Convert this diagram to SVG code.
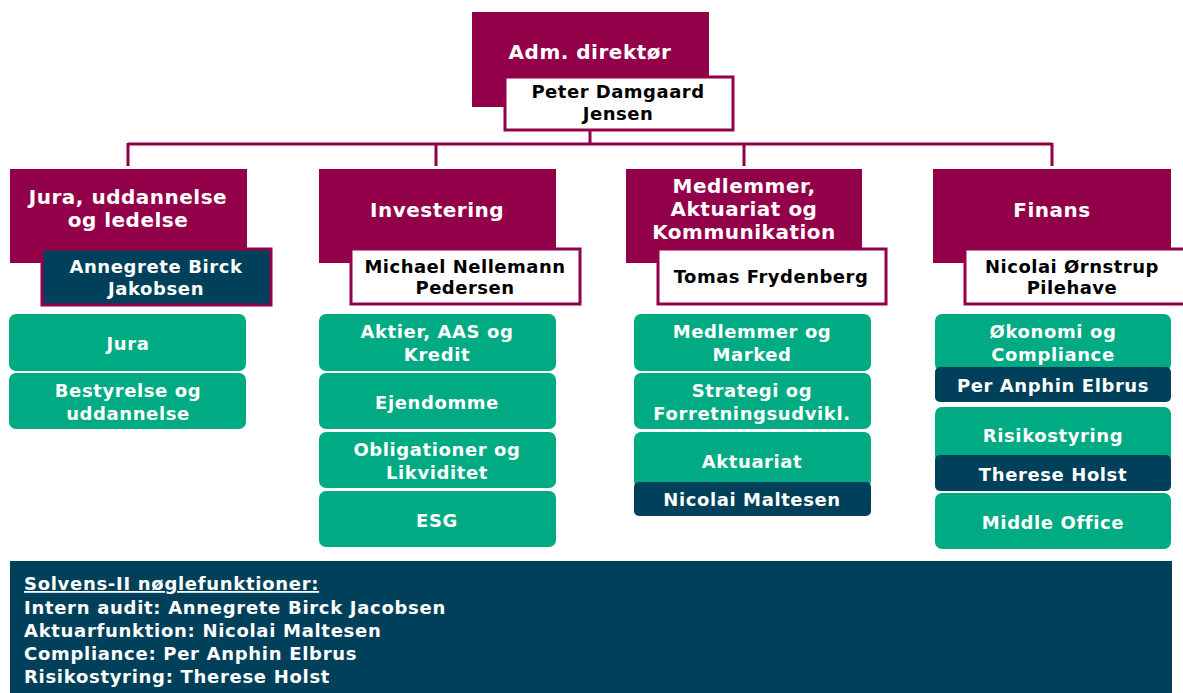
<svg xmlns="http://www.w3.org/2000/svg" width="1183" height="693" viewBox="0 0 1183 693">
<style>
.mag{fill:#93004a}
.wht{fill:#ffffff;stroke:#93004a;stroke-width:3}
.nvb{fill:#00405a;stroke:#93004a;stroke-width:3}
.grn{fill:#00ab84}
.nav{fill:#00405a}
text{font-family:"DejaVu Sans","Verdana",sans-serif;font-weight:bold;text-anchor:middle}
.h{fill:#ffffff;font-size:20px;letter-spacing:0.5px}
.n{fill:#000000;font-size:18px;letter-spacing:0.5px}
.w{fill:#ffffff;font-size:18px;letter-spacing:0.6px}
.b{fill:#ffffff;font-size:18px;letter-spacing:0.7px;text-anchor:start}
.con{fill:none;stroke:#93004a;stroke-width:3}
</style>
<rect width="1183" height="693" fill="#ffffff"/>
<g id="connectors">
<path class="con" d="M590 130V144M128 144H1052M128 143V166M436 143V166M744 143V166M1052 143V166"/>
</g>
<g id="ceo">
<rect class="mag" x="472" y="12" width="237" height="95"/>
<text class="h" x="590" y="59">Adm. direktør</text>
<rect class="wht" x="505" y="77" width="228" height="53"/>
<text class="n" x="618" y="98">Peter Damgaard</text>
<text class="n" x="618" y="120">Jensen</text>
</g>
<g id="jura">
<rect class="mag" x="10" y="169" width="237" height="94"/>
<text class="h" x="128" y="204">Jura, uddannelse</text>
<text class="h" x="128" y="227">og ledelse</text>
<rect class="nvb" x="42" y="249" width="229" height="56"/>
<text class="w" x="156" y="273">Annegrete Birck</text>
<text class="w" x="156" y="295">Jakobsen</text>
</g>
<g id="jura-1"><rect class="grn" x="9" y="314" width="237" height="57" rx="7"/><text class="w" x="128" y="350">Jura</text></g>
<g id="jura-2"><rect class="grn" x="9" y="373" width="237" height="56" rx="7"/><text class="w" x="128" y="397">Bestyrelse og</text><text class="w" x="128" y="420">uddannelse</text></g>
<g id="investering">
<rect class="mag" x="319" y="169" width="237" height="94"/>
<text class="h" x="437" y="217">Investering</text>
<rect class="wht" x="351" y="249" width="229" height="55"/>
<text class="n" x="465" y="273">Michael Nellemann</text>
<text class="n" x="465" y="294">Pedersen</text>
</g>
<g id="inv-1"><rect class="grn" x="319" y="314" width="237" height="57" rx="7"/><text class="w" x="437" y="338">Aktier, AAS og</text><text class="w" x="437" y="361">Kredit</text></g>
<g id="inv-2"><rect class="grn" x="319" y="373" width="237" height="56" rx="7"/><text class="w" x="437" y="409">Ejendomme</text></g>
<g id="inv-3"><rect class="grn" x="319" y="432" width="237" height="56" rx="7"/><text class="w" x="437" y="456">Obligationer og</text><text class="w" x="437" y="479">Likviditet</text></g>
<g id="inv-4"><rect class="grn" x="319" y="491" width="237" height="56" rx="7"/><text class="w" x="437" y="527">ESG</text></g>
<g id="medlemmer">
<rect class="mag" x="626" y="169" width="236" height="94"/>
<text class="h" x="744" y="193">Medlemmer,</text>
<text class="h" x="744" y="216">Aktuariat og</text>
<text class="h" x="744" y="239">Kommunikation</text>
<rect class="wht" x="658" y="249" width="228" height="55"/>
<text class="n" x="771" y="283">Tomas Frydenberg</text>
</g>
<g id="med-1"><rect class="grn" x="634" y="314" width="237" height="57" rx="7"/><text class="w" x="752" y="338">Medlemmer og</text><text class="w" x="752" y="361">Marked</text></g>
<g id="med-2"><rect class="grn" x="634" y="373" width="237" height="56" rx="7"/><text class="w" x="752" y="397">Strategi og</text><text class="w" x="752" y="420">Forretningsudvikl.</text></g>
<g id="med-3"><rect class="grn" x="634" y="432" width="237" height="56" rx="7"/><text class="w" x="752" y="468">Aktuariat</text>
<rect class="nav" x="634" y="482" width="237" height="34" rx="5"/><text class="w" x="752" y="506">Nicolai Maltesen</text></g>
<g id="finans">
<rect class="mag" x="933" y="169" width="238" height="94"/>
<text class="h" x="1052" y="217">Finans</text>
<rect class="wht" x="965" y="249" width="222" height="55"/>
<text class="n" x="1072" y="273">Nicolai Ørnstrup</text>
<text class="n" x="1072" y="294">Pilehave</text>
</g>
<g id="fin-1"><rect class="grn" x="935" y="314" width="236" height="57" rx="7"/><text class="w" x="1053" y="338">Økonomi og</text><text class="w" x="1053" y="361">Compliance</text>
<rect class="nav" x="935" y="367" width="236" height="35" rx="5"/><text class="w" x="1053" y="392">Per Anphin Elbrus</text></g>
<g id="fin-2"><rect class="grn" x="935" y="407" width="236" height="56" rx="7"/><text class="w" x="1053" y="442">Risikostyring</text>
<rect class="nav" x="935" y="455" width="236" height="36" rx="5"/><text class="w" x="1053" y="481">Therese Holst</text></g>
<g id="fin-3"><rect class="grn" x="935" y="493" width="236" height="56" rx="7"/><text class="w" x="1053" y="529">Middle Office</text></g>
<g id="solvens">
<rect class="nav" x="10" y="561" width="1162" height="132"/>
<text class="b" x="24" y="590" text-decoration="underline">Solvens-II nøglefunktioner:</text>
<text class="b" x="24" y="614">Intern audit: Annegrete Birck Jacobsen</text>
<text class="b" x="24" y="637">Aktuarfunktion: Nicolai Maltesen</text>
<text class="b" x="24" y="660">Compliance: Per Anphin Elbrus</text>
<text class="b" x="24" y="683">Risikostyring: Therese Holst</text>
</g>
</svg>
